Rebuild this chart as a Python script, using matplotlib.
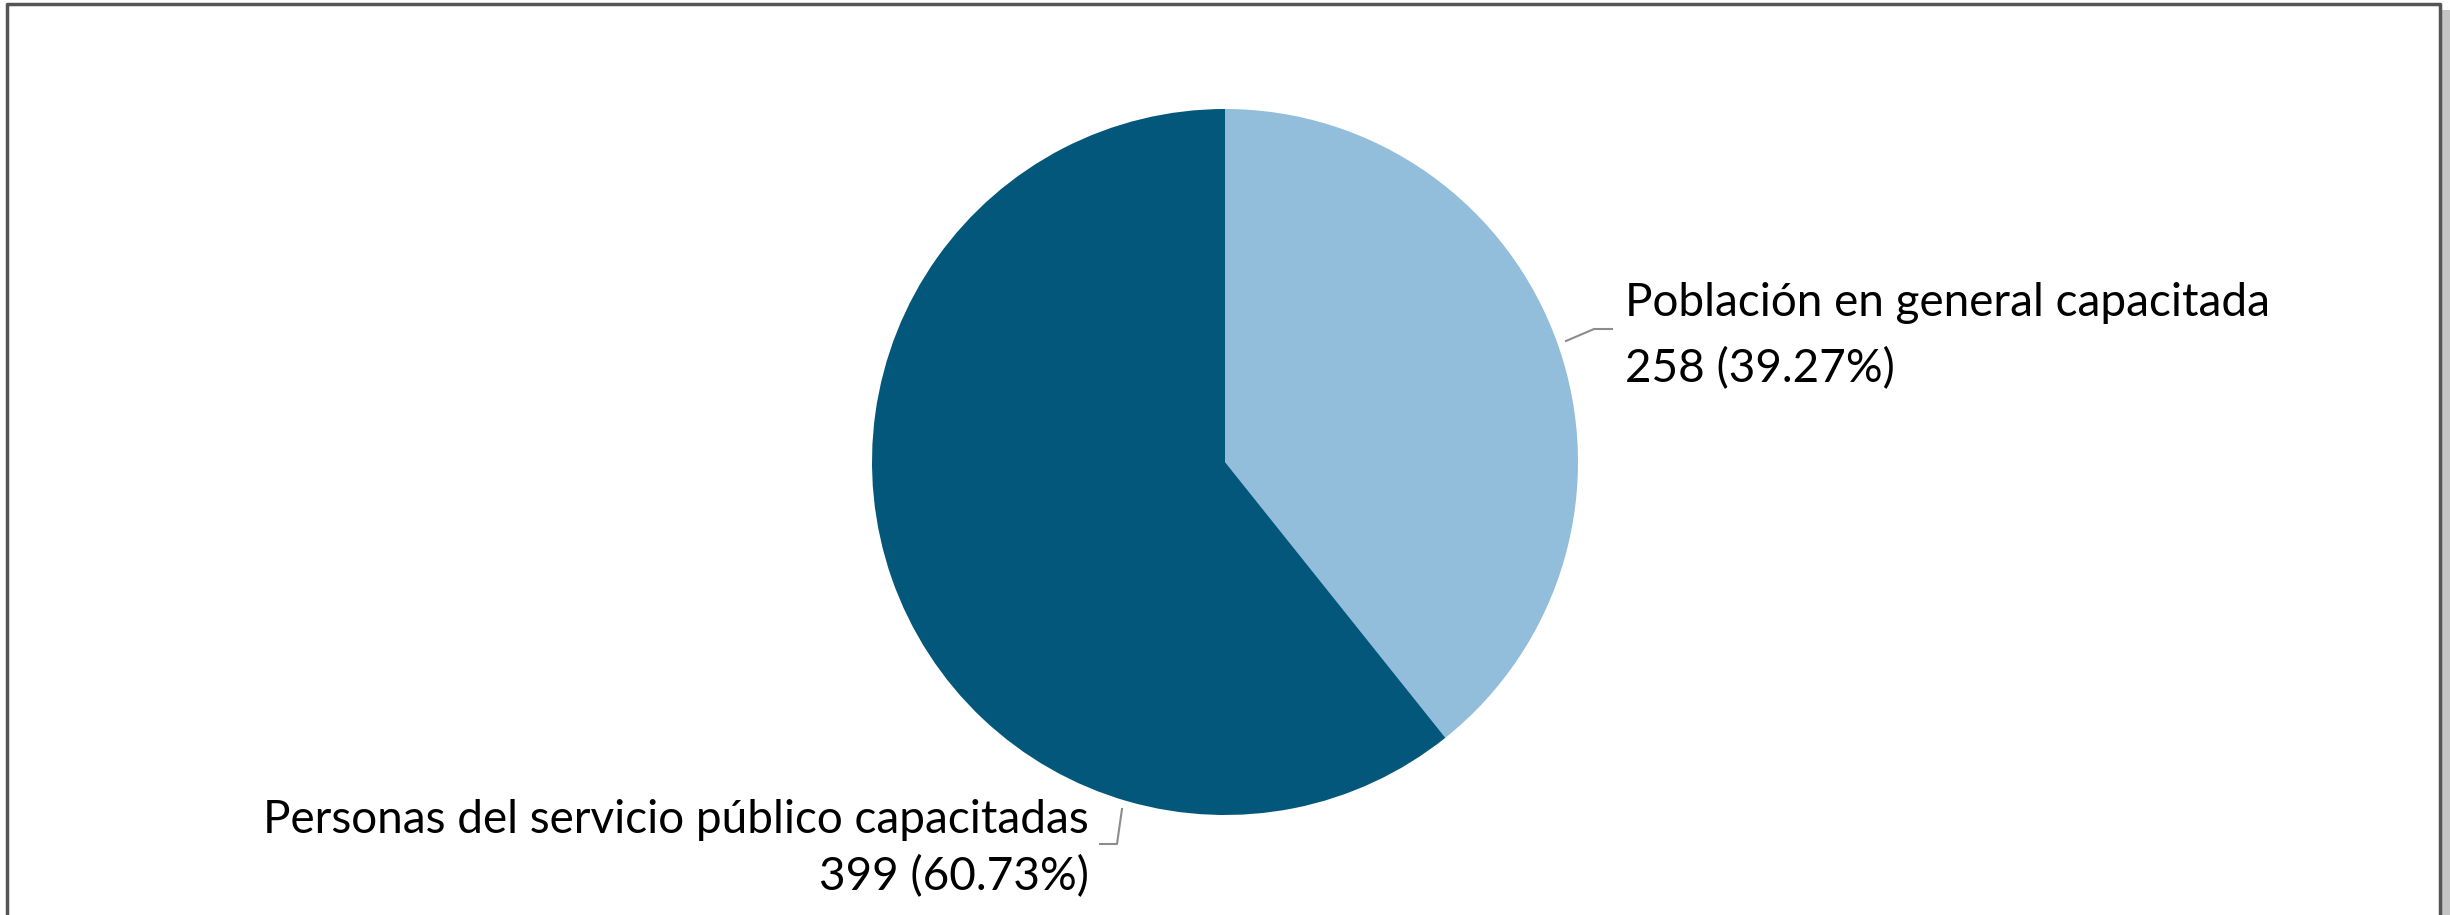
import numpy as np
import matplotlib
matplotlib.use("Agg")
import matplotlib.pyplot as plt
from matplotlib.patches import Rectangle
from matplotlib.lines import Line2D

categories = ["Población en general capacitada", "Personas del servicio público capacitadas"]
values = [258, 399]
percents = ["39.27%", "60.73%"]
colors = ["#92BDDB", "#03577A"]

W, H = 2450, 915
fig = plt.figure(figsize=(W / 100, H / 100), dpi=100)
fig.patch.set_facecolor("white")
ax = fig.add_axes([0, 0, 1, 1])

cx, cy, r = 1225, H - 462, 353
ax.pie(values, colors=colors, startangle=90, counterclock=False,
       center=(cx, cy), radius=r, frame=True,
       wedgeprops=dict(linewidth=0))
ax.set_xlim(0, W)
ax.set_ylim(0, H)
ax.set_aspect("equal")
ax.axis("off")

font = "Lato"
fs = 33
lc = "#8c8c8c"

# Label 1 (right side)
ax.text(1625, H - 303, categories[0], fontsize=fs, family=font, ha="left", va="center", color="black")
ax.text(1625, H - 369, f"{values[0]} ({percents[0]})", fontsize=fs, family=font, ha="left", va="center", color="black")
ax.add_line(Line2D([1566, 1594, 1612], [H - 341, H - 329, H - 329], color=lc, lw=1.5))

# Label 2 (bottom left)
ax.text(1089, H - 820, categories[1], fontsize=fs, family=font, ha="right", va="center", color="black")
ax.text(1089, H - 877, f"{values[1]} ({percents[1]})", fontsize=fs, family=font, ha="right", va="center", color="black")
ax.add_line(Line2D([1122, 1117, 1100], [H - 809, H - 844, H - 844], color=lc, lw=1.5))

# Frame with shadow
fig.patches.append(Rectangle((2442 / W, 0), 8 / W, (H - 10) / H, transform=fig.transFigure,
                             facecolor="#c4c4c4", edgecolor="none", zorder=0))
fig.add_artist(Line2D([7 / W, 7 / W, 2440 / W, 2440 / W], [0, (H - 4) / H, (H - 4) / H, 0],
                      transform=fig.transFigure, color="#555555", lw=2.5))

fig.savefig("out.png", dpi=100, facecolor="white")
